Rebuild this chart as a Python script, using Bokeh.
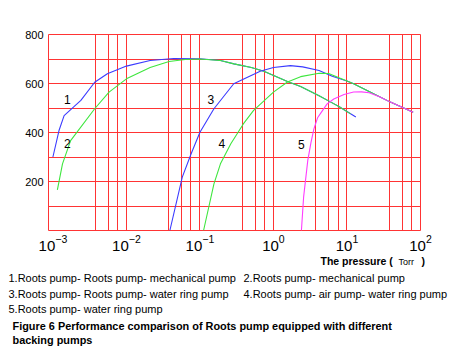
from bokeh.plotting import figure
from bokeh.layouts import column
from bokeh.models import FixedTicker, Range1d
from bokeh.core.properties import value
from bokeh.embed import file_html
from bokeh.resources import INLINE

FONT = "Liberation Sans"
RED = "#ff3434"

# ---- data: pressure (Torr) vs pumping speed ----
c1_p = [0.001, 0.00121, 0.00142, 0.0024, 0.0037, 0.0055, 0.01, 0.021, 0.044, 0.1,
        0.19, 0.29, 0.5, 0.74, 1.55, 2.34, 4.17, 6.03, 7.76, 13.2]
c1_s = [300, 408, 469, 531, 605, 640, 671, 694, 702, 701,
        694, 680, 665, 650, 608, 588, 550, 524, 506, 463]

c2_p = [0.00115, 0.00135, 0.00174, 0.0037, 0.0058, 0.01, 0.021, 0.038, 0.063, 0.1,
        0.19, 0.29, 0.5, 0.74, 1.55, 2.34, 4.17, 6.03, 7.76, 11.2]
c2_s = [166, 272, 367, 497, 565, 619, 665, 690, 698, 700,
        694, 680, 665, 650, 608, 588, 550, 524, 506, 476]

c3_p = [0.039, 0.0575, 0.0759, 0.1, 0.155, 0.288, 0.66, 1.0, 1.7, 2.5, 4.17, 6.3,
        10.0, 12.3, 20.0, 38.9, 56.2, 79.4]
c3_s = [0, 218, 313, 401, 497, 599, 650, 665, 673, 668, 653, 630,
        610, 599, 567, 524, 503, 483]

c4_p = [0.112, 0.155, 0.19, 0.263, 0.389, 0.537, 1.0, 1.55, 2.34, 4.17, 5.62, 7.94,
        10.0, 12.3, 20.0, 38.9, 56.2, 79.4]
c4_s = [0, 190, 272, 354, 435, 490, 565, 606, 628, 642, 641, 622,
        610, 599, 567, 524, 503, 483]

c5_p = [2.4, 2.57, 2.93, 3.24, 3.55, 3.98, 4.37, 5.37, 6.61, 9.12, 12.3, 15.8,
        20.0, 28.2, 38.9, 56.2, 79.4]
c5_s = [0, 136, 286, 360, 415, 460, 478, 517, 537, 555, 565, 566,
        562, 545, 524, 503, 483]

curve_ids = ["1", "2", "3", "4", "5"]
curve_label_p = [0.00157, 0.00157, 0.1406, 0.198, 2.39]
curve_label_s = [536, 356, 536, 356, 351]

x_ticks = [1e-3, 1e-2, 1e-1, 1e0, 1e1, 1e2]
y_ticks = [200, 400, 600, 800]
y_grid = [100, 200, 300, 400, 500, 600, 700, 800]
x_grid = [0.00374, 0.00569, 0.00755, 0.01,
          0.0374, 0.0569, 0.0755, 0.1,
          0.374, 0.569, 0.755, 1.0,
          3.74, 5.69, 7.55, 10.0,
          37.4, 56.9, 75.5, 100.0]

axis_title = ["The pressure (", "Torr", ")"]
legend_left = ["1.Roots pump- Roots pump- mechanical pump",
               "3.Roots pump- Roots pump- water ring pump",
               "5.Roots pump- water ring pump"]
legend_right = ["2.Roots pump- mechanical pump",
                "4.Roots pump- air pump- water ring pump"]
caption = ["Figure 6 Performance comparison of Roots pump equipped with different",
           "backing pumps"]

H1 = 254
p = figure(width=450, height=H1, x_axis_type="log",
           x_range=Range1d(10 ** -3.06, 100), y_range=Range1d(0, 800),
           output_backend="svg", toolbar_location=None,
           min_border_left=48, min_border_right=30, min_border_top=34,
           min_border_bottom=H1 - 230)
p.background_fill_color = "white"
p.border_fill_color = "white"
p.outline_line_color = RED
p.outline_line_width = 1

p.xgrid.ticker = FixedTicker(ticks=x_grid)
p.ygrid.ticker = FixedTicker(ticks=y_grid)
for g in (p.xgrid, p.ygrid):
    g.grid_line_color = RED
    g.grid_line_alpha = 1.0
    g.grid_line_width = 1

p.xaxis.ticker = FixedTicker(ticks=x_ticks)
p.yaxis.ticker = FixedTicker(ticks=y_ticks)
for ax in (p.xaxis, p.yaxis):
    ax.axis_line_color = None
    ax.major_tick_line_color = None
    ax.minor_tick_line_color = None
    ax.major_tick_out = 0
    ax.major_tick_in = 0
    ax.major_label_text_font = FONT
    ax.major_label_text_color = "black"
p.yaxis.major_label_text_font_size = "11px"
p.yaxis.major_label_standoff = 5
p.xaxis.major_label_text_font_size = "15px"
p.xaxis.major_label_standoff = 4

lw = 1.1
p.line(c1_p, c1_s, line_color="#3b3bff", line_width=lw)
p.line(c2_p, c2_s, line_color="#3ee63e", line_width=lw)
p.line(c3_p, c3_s, line_color="#3b3bff", line_width=lw)
p.line(c4_p, c4_s, line_color="#3ee63e", line_width=lw)
p.line(c5_p, c5_s, line_color="#ff3cff", line_width=lw)

p.text(curve_label_p, curve_label_s, text=curve_ids, text_font=value(FONT),
       text_font_size="12px", text_align="center", text_baseline="middle",
       text_color="black")

# ---- text panel below the chart (pixel coordinates, y downward) ----
H2 = 350 - H1
q = figure(width=450, height=H2, x_range=Range1d(0, 450), y_range=Range1d(H2, 0),
           output_backend="svg", toolbar_location=None,
           x_axis_location=None, y_axis_location=None,
           min_border=0, min_border_left=0, min_border_right=0,
           min_border_top=0, min_border_bottom=0)
q.outline_line_color = None
q.grid.visible = False
q.background_fill_color = "white"
q.border_fill_color = "white"
for fig in (p, q):
    if "frame_align" in fig.properties():
        fig.frame_align = False


def txt(s, X, Y, size="11px", style="normal"):
    q.text([X], [Y - H1], text=[s], text_font=value(FONT), text_font_size=size,
           text_font_style=style, text_align="left", text_baseline="middle",
           text_color="black")


txt(axis_title[0], 320, 260, "10.5px", "bold")
txt(axis_title[1], 398, 261, "9px")
txt(axis_title[2], 421, 260, "10.5px", "bold")
rows_y = [277, 293, 308]
for i, s in enumerate(legend_left):
    txt(s, 8, rows_y[i])
for i, s in enumerate(legend_right):
    txt(s, 243, rows_y[i])
txt(caption[0], 12, 325, "10.9px", "bold")
txt(caption[1], 12, 339, "10.9px", "bold")

layout = column(p, q, spacing=0)
open("out.html", "w").write(file_html(layout, INLINE))
